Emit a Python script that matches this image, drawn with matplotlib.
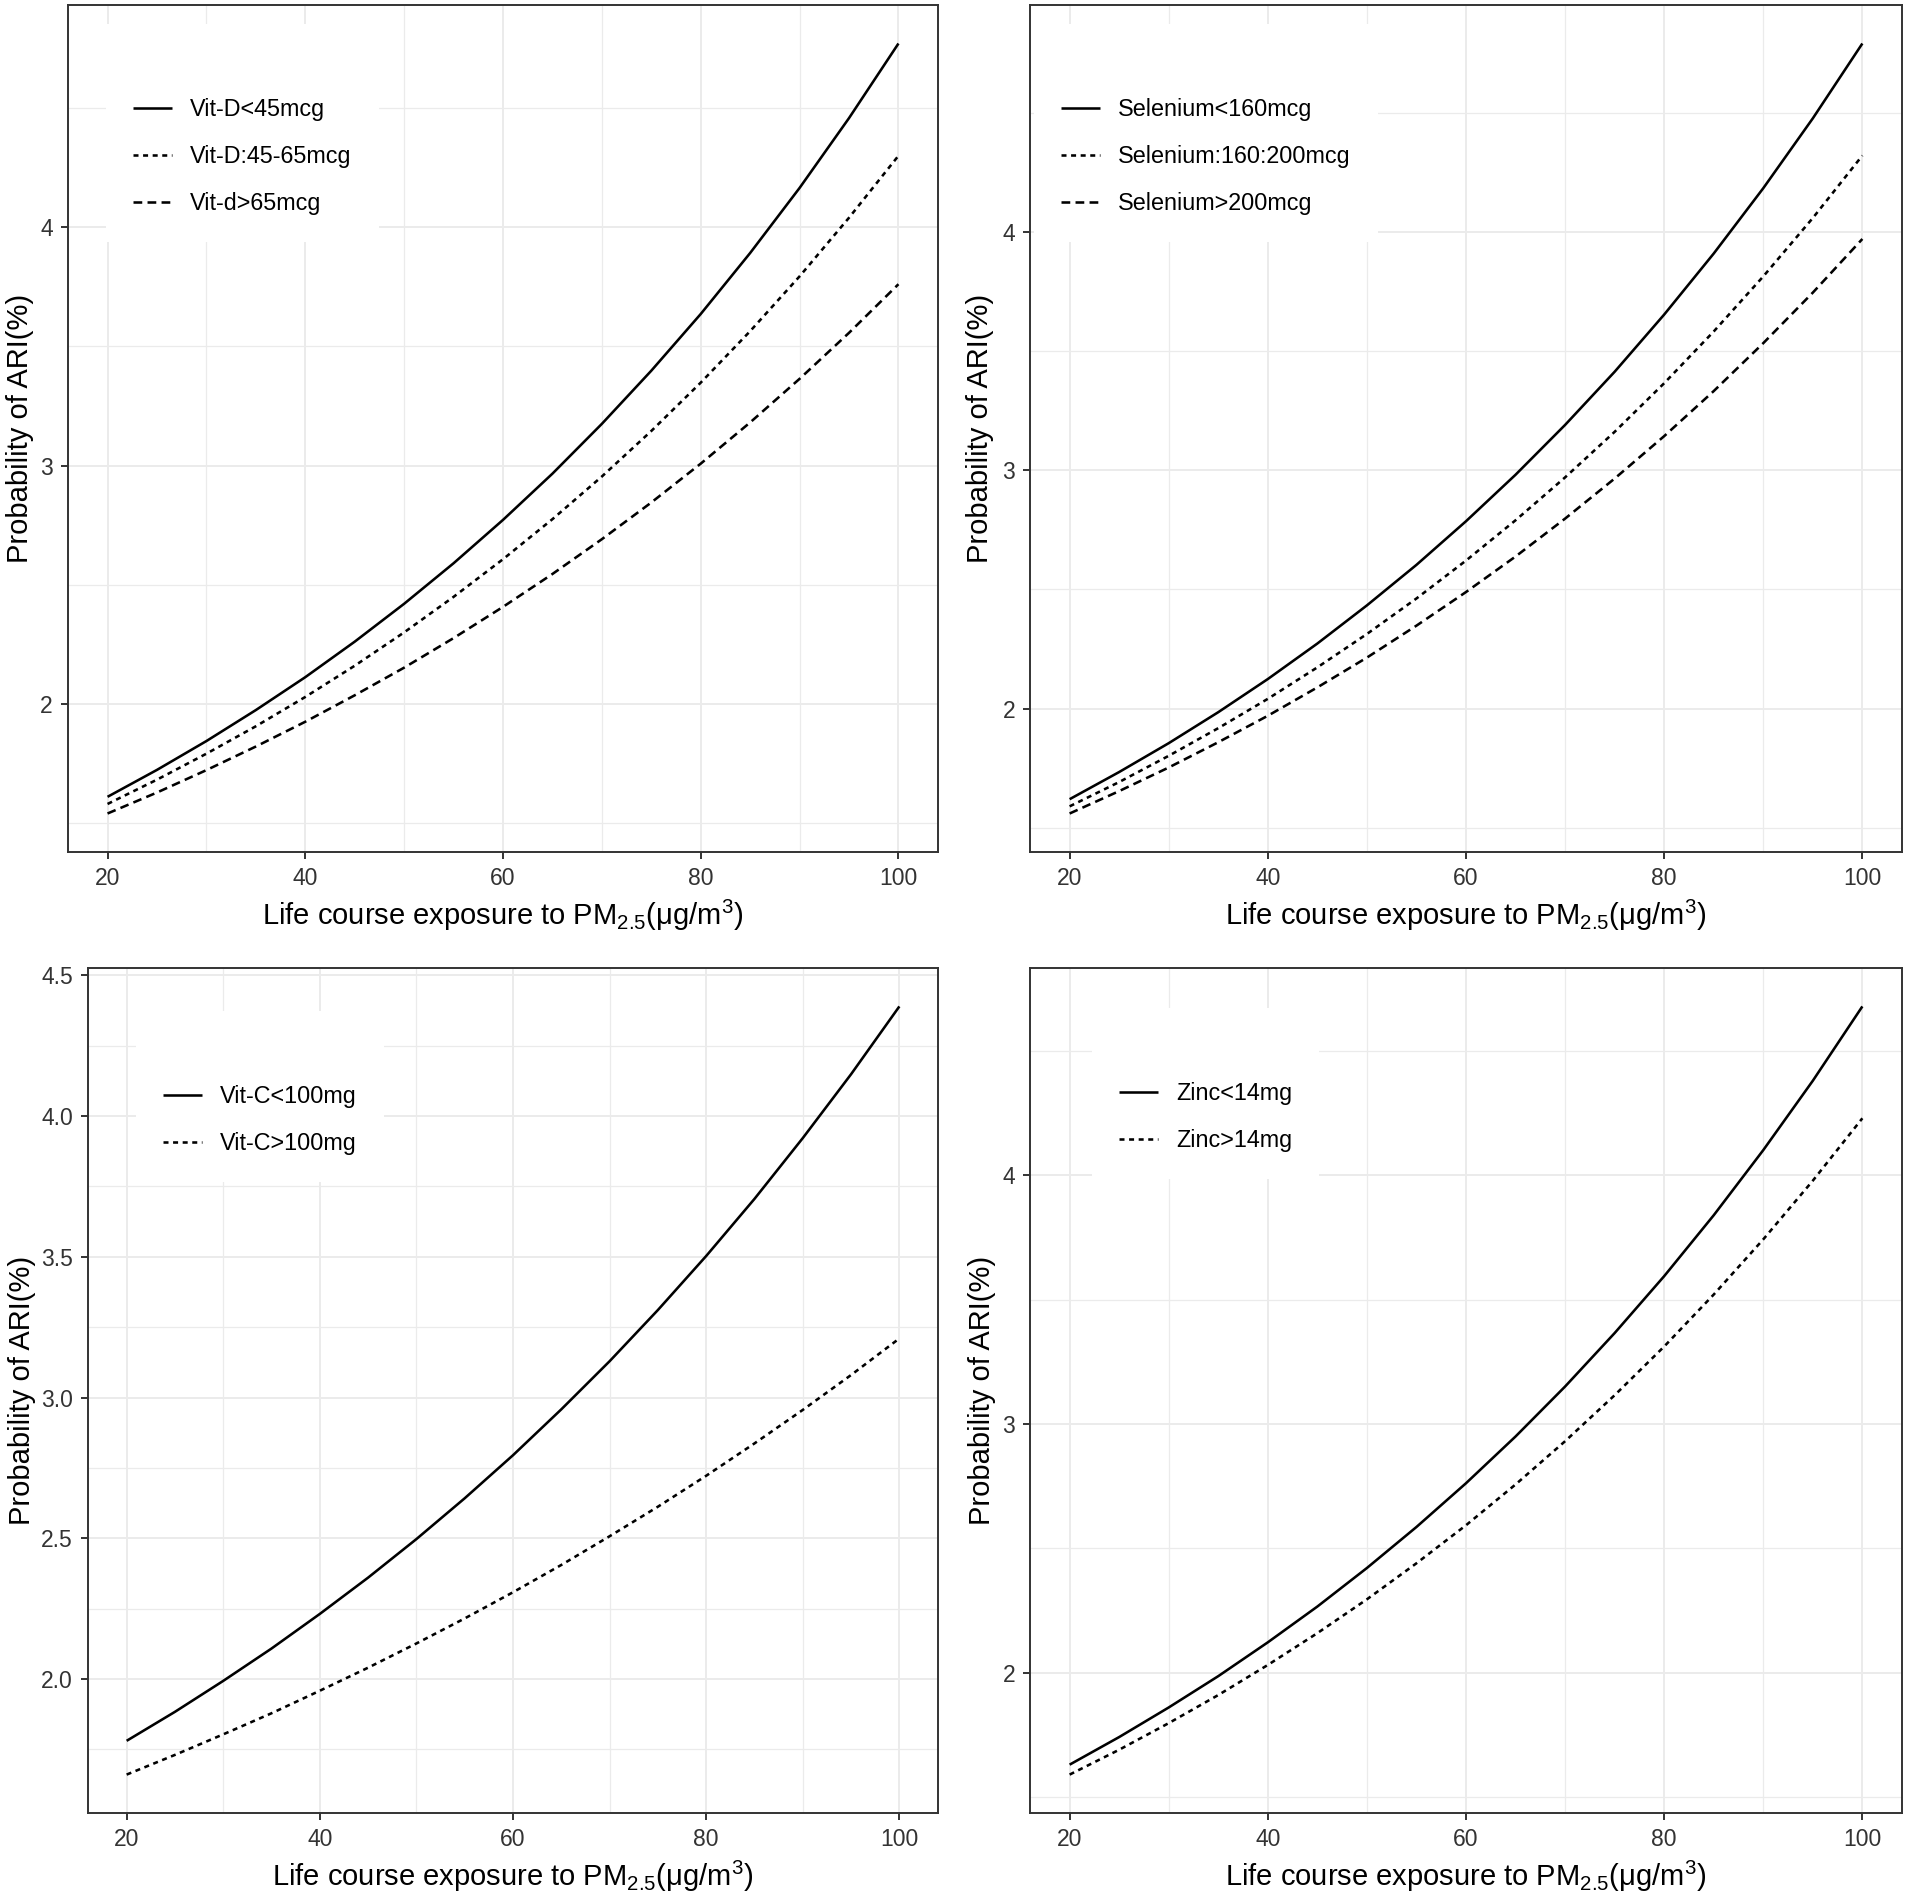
import matplotlib
matplotlib.use('Agg')
import matplotlib.pyplot as plt
from matplotlib.ticker import FixedLocator, FixedFormatter

plt.rcParams['font.family'] = ['Liberation Sans', 'DejaVu Sans']
plt.rcParams['mathtext.fontset'] = 'custom'
plt.rcParams['mathtext.rm'] = 'Liberation Sans'
plt.rcParams['mathtext.it'] = 'Liberation Sans:italic'
plt.rcParams['mathtext.bf'] = 'Liberation Sans:bold'
plt.rcParams['lines.scale_dashes'] = False

W, H, DPI = 1908, 1901, 100

# ---------------- data ----------------
pm25 = [20, 25, 30, 35, 40, 45, 50, 55, 60, 65, 70, 75, 80, 85, 90, 95, 100]

vitd_lt45 = [1.610, 1.723, 1.844, 1.974, 2.112, 2.261, 2.420, 2.590, 2.772,
             2.966, 3.175, 3.398, 3.636, 3.892, 4.165, 4.458, 4.771]
vitd_45_65 = [1.580, 1.682, 1.791, 1.906, 2.029, 2.160, 2.300, 2.449, 2.607,
              2.775, 2.954, 3.145, 3.348, 3.564, 3.794, 4.040, 4.300]
vitd_gt65 = [1.540, 1.628, 1.722, 1.821, 1.925, 2.036, 2.152, 2.276, 2.407,
             2.545, 2.691, 2.845, 3.008, 3.181, 3.364, 3.557, 3.761]

sel_lt160 = [1.620, 1.734, 1.855, 1.985, 2.124, 2.273, 2.433, 2.603, 2.786,
             2.981, 3.190, 3.413, 3.653, 3.909, 4.183, 4.476, 4.790]
sel_160_200 = [1.590, 1.692, 1.802, 1.918, 2.041, 2.173, 2.313, 2.462, 2.621,
               2.790, 2.970, 3.161, 3.365, 3.582, 3.813, 4.058, 4.320]
sel_gt200 = [1.560, 1.654, 1.753, 1.859, 1.970, 2.089, 2.214, 2.348, 2.489,
             2.638, 2.797, 2.965, 3.143, 3.332, 3.533, 3.745, 3.970]

vitc_lt100 = [1.780, 1.883, 1.993, 2.108, 2.231, 2.360, 2.497, 2.642, 2.795,
              2.958, 3.129, 3.311, 3.503, 3.706, 3.922, 4.149, 4.390]
vitc_gt100 = [1.660, 1.730, 1.803, 1.878, 1.958, 2.040, 2.126, 2.215, 2.308,
              2.405, 2.507, 2.612, 2.722, 2.837, 2.956, 3.080, 3.210]

zinc_lt14 = [1.630, 1.741, 1.860, 1.986, 2.122, 2.266, 2.421, 2.586, 2.762,
             2.950, 3.151, 3.366, 3.595, 3.840, 4.102, 4.381, 4.680]
zinc_gt14 = [1.590, 1.690, 1.797, 1.910, 2.031, 2.159, 2.295, 2.440, 2.593,
             2.757, 2.931, 3.116, 3.312, 3.521, 3.743, 3.979, 4.230]

labels_vitd = ['Vit-D<45mcg', 'Vit-D:45-65mcg', 'Vit-d>65mcg']
labels_sel = ['Selenium<160mcg', 'Selenium:160:200mcg', 'Selenium>200mcg']
labels_vitc = ['Vit-C<100mg', 'Vit-C>100mg']
labels_zinc = ['Zinc<14mg', 'Zinc>14mg']

x_major = [20, 40, 60, 80, 100]
x_major_labels = ['20', '40', '60', '80', '100']
x_minor = [30, 50, 70, 90]

y_major_int = [2, 3, 4]
y_major_int_labels = ['2', '3', '4']
y_minor_int = [1.5, 2.5, 3.5, 4.5]

y_major_half = [2.0, 2.5, 3.0, 3.5, 4.0, 4.5]
y_major_half_labels = ['2.0', '2.5', '3.0', '3.5', '4.0', '4.5']
y_minor_half = [1.75, 2.25, 2.75, 3.25, 3.75, 4.25]

xlabel = 'Life course exposure to PM$_{2.5}$(\u03bcg/m$^{3}$)'
ylabel = 'Probability of ARI(%)'

# ---------------- styles ----------------
styles = [
    dict(linestyle='-'),
    dict(linestyle=(0, (3.6, 3.3))),
    dict(linestyle=(0, (6.3, 3.8))),
]
LW = 1.85
FS_TICK = 16.5
FS_LEG = 16.8
FS_TITLE = 21
GRID = '#EBEBEB'
FRAME = '#333333'

# panel boxes in pixels: left, right, top, bottom ; legend top-left ; ylabel x
panels = [
    dict(series=[vitd_lt45, vitd_45_65, vitd_gt65], labels=labels_vitd,
         box=(68, 938, 5, 852), leg=(106, 24), ylab_x=20,
         yt=y_major_int, ytl=y_major_int_labels, ym=y_minor_int),
    dict(series=[sel_lt160, sel_160_200, sel_gt200], labels=labels_sel,
         box=(1030, 1902, 5, 852), leg=(1034, 24), ylab_x=980,
         yt=y_major_int, ytl=y_major_int_labels, ym=y_minor_int),
    dict(series=[vitc_lt100, vitc_gt100], labels=labels_vitc,
         box=(88, 938, 968, 1813), leg=(136, 1011), ylab_x=22,
         yt=y_major_half, ytl=y_major_half_labels, ym=y_minor_half),
    dict(series=[zinc_lt14, zinc_gt14], labels=labels_zinc,
         box=(1030, 1902, 968, 1813), leg=(1092, 1008), ylab_x=982,
         yt=y_major_int, ytl=y_major_int_labels, ym=y_minor_int),
]

fig = plt.figure(figsize=(W / DPI, H / DPI), dpi=DPI)
fig.patch.set_facecolor('white')

for p in panels:
    l, r, t, b = p['box']
    ax = fig.add_axes([l / W, 1 - b / H, (r - l) / W, (b - t) / H])
    handles = []
    for vals, lab, st in zip(p['series'], p['labels'], styles):
        ln, = ax.plot(pm25, vals, color='black', lw=LW, label=lab,
                      solid_capstyle='butt', dash_capstyle='butt',
                      solid_joinstyle='round', **st)
        handles.append(ln)
    ax.margins(x=0.05, y=0.05)

    ax.xaxis.set_major_locator(FixedLocator(x_major))
    ax.xaxis.set_major_formatter(FixedFormatter(x_major_labels))
    ax.xaxis.set_minor_locator(FixedLocator(x_minor))
    ax.yaxis.set_major_locator(FixedLocator(p['yt']))
    ax.yaxis.set_major_formatter(FixedFormatter(p['ytl']))
    ax.yaxis.set_minor_locator(FixedLocator(p['ym']))

    ax.grid(which='major', color=GRID, lw=1.4)
    ax.grid(which='minor', color=GRID, lw=0.9)
    ax.set_axisbelow(True)

    for s in ax.spines.values():
        s.set_color(FRAME)
        s.set_linewidth(1.4)

    ax.tick_params(which='major', length=5, width=1.4, color=FRAME,
                   labelsize=FS_TICK, labelcolor='#333333', pad=5.8)
    ax.tick_params(which='minor', length=0)

    ax.set_xlabel(xlabel, fontsize=FS_TITLE, color='black')
    ax.xaxis.label.set_va('baseline')
    ax.xaxis.set_label_coords(0.5, -(73 / (b - t)))

    ax.set_ylabel(ylabel, fontsize=FS_TITLE, color='black')
    ax.yaxis.label.set_va('center')
    ax.yaxis.set_label_coords((p['ylab_x'] - l) / (r - l), 0.5)

    lx, ly = p['leg']
    ax.legend(handles=handles, loc='upper left',
              bbox_to_anchor=(lx / W, 1 - ly / H), bbox_transform=fig.transFigure,
              borderaxespad=0, frameon=True, fancybox=False, framealpha=1,
              facecolor='white', edgecolor='none', title=' ',
              title_fontsize=FS_LEG, fontsize=FS_LEG, handlelength=1.65,
              handletextpad=0.8, labelspacing=1.03, borderpad=1.16)

fig.savefig('out.png', dpi=DPI, facecolor='white')
